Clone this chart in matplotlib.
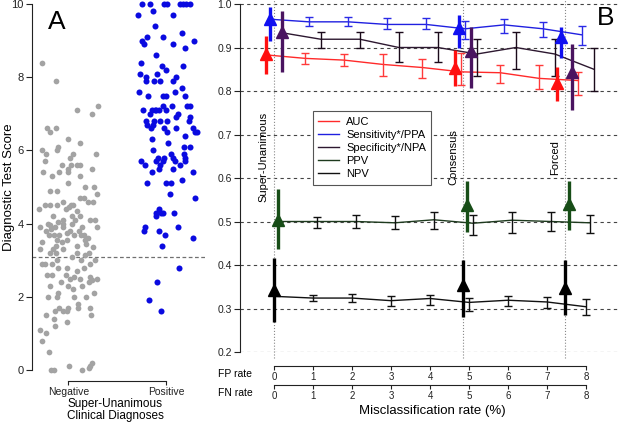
import numpy as np
import matplotlib
matplotlib.use("Agg")
import matplotlib.pyplot as plt
from matplotlib.lines import Line2D

plt.rcParams['font.family'] = ['Liberation Sans', 'DejaVu Sans']

# ---------------- Panel A data ----------------
neg_jitter = [-0.27, -0.13, 0.09, 0.30, 0.24, -0.22, -0.19, -0.13, 0.0, -0.27, -0.10, -0.12, 0.12,
              -0.23, 0.05, 0.28, -0.24, 0.02, 0.03, -0.06, 0.09, 0.12, -0.26, -0.09, 0.0, 0.0, 0.12,
              -0.17, 0.24, 0.0, 0.26, 0.17, -0.19, -0.12, 0.12, 0.16, 0.29, 0.20, 0.25, -0.05, 0.03,
              0.01, 0.05, -0.19, -0.24, -0.30, -0.11, 0.09, -0.02, -0.16, 0.12, -0.05, 0.04, 0.07,
              0.22, 0.27, -0.21, -0.19, -0.10, -0.05, 0.04, -0.29, -0.23, -0.18, -0.15, -0.20, -0.14,
              -0.09, -0.05, -0.01, 0.02, 0.06, 0.11, 0.14, 0.16, 0.20, 0.29, -0.11, -0.06, -0.13,
              -0.27, -0.29, -0.01, 0.13, 0.17, 0.18, 0.25, 0.09, -0.05, -0.16, -0.19, -0.13, 0.09,
              0.04, 0.17, 0.21, 0.27, -0.27, -0.24, -0.17, -0.12, 0.13, 0.16, 0.22, -0.01, 0.09,
              -0.22, -0.17, -0.10, -0.02, 0.02, 0.06, 0.12, 0.29, 0.22, -0.07, 0.0, -0.19, 0.24,
              0.21, 0.14, 0.05, -0.12, -0.21, -0.10, 0.18, 0.26, 0.06, 0.10, 0.0, -0.09, 0.10, 0.22,
              -0.14, -0.05, -0.01, 0.23, -0.23, -0.01, -0.14, -0.29, -0.23, -0.27, -0.20, 0.01,
              -0.18, -0.15, 0.14, 0.21, 0.24, 0.22, -0.15]
neg_score = [8.4, 7.9, 7.1, 7.2, 7.0, 6.6, 6.5, 6.6, 6.3, 6.0, 6.1, 6.0, 6.2,
             5.9, 5.9, 5.9, 5.7, 5.8, 5.6, 5.6, 5.6, 5.6, 5.4, 5.4, 5.5, 5.4, 5.3,
             5.3, 5.5, 5.1, 5.0, 5.0, 4.9, 4.9, 4.7, 4.7, 4.8, 4.6, 4.6, 4.6, 4.5,
             4.45, 4.5, 4.5, 4.5, 4.4, 4.5, 4.35, 4.4, 4.2, 4.2, 4.1, 4.2, 4.1,
             4.1, 4.1, 4.0, 3.95, 4.05, 4.0, 4.0, 3.9, 3.8, 3.85, 3.7, 3.7, 3.9,
             3.7, 3.9, 3.75, 3.8, 3.7, 3.8, 3.9, 3.7, 3.6, 3.9, 3.55, 3.5, 3.4,
             3.5, 3.3, 3.55, 3.7, 3.55, 3.45, 3.35, 3.4, 3.3, 3.3, 3.2, 3.2, 3.2,
             3.1, 3.15, 3.2, 3.0, 2.9, 2.9, 2.9, 3.0, 3.0, 2.8, 2.9, 2.8, 2.7,
             2.6, 2.6, 2.8, 2.6, 2.5, 2.55, 2.5, 2.5, 2.55, 2.4, 2.3, 2.3, 2.45,
             2.4, 2.3, 2.2, 2.0, 2.0, 2.1, 2.0, 2.1, 2.0, 1.8, 1.7, 1.7, 1.7, 1.7,
             1.6, 1.6, 1.6, 1.5, 1.5, 1.3, 1.2, 1.1, 1.0, 0.8, 0.5, 0.1,
             0.0, 0.0, 0.0, 0.05, 0.2, 0.1, 1.4]

pos_jitter = [-0.25, -0.17, -0.02, 0.01, 0.14, 0.17, 0.20, 0.24, -0.29, -0.14, 0.07, -0.12, -0.20,
              -0.03, 0.16, 0.28, -0.25, -0.23, 0.07, 0.19, -0.11, -0.26, -0.04, 0.17, 0.0, -0.27,
              -0.09, 0.10, -0.21, -0.21, -0.13, -0.06, 0.07, 0.16, -0.28, 0.09, 0.19, -0.19, -0.03,
              0.0, -0.03, 0.06, 0.21, 0.24, -0.24, -0.15, -0.12, -0.10, -0.07, 0.0, -0.17, 0.12,
              -0.21, -0.13, -0.06, 0.01, 0.10, 0.24, 0.23, -0.20, -0.14, -0.16, -0.02, 0.01, 0.10,
              0.27, 0.29, 0.31, 0.19, -0.15, 0.02, 0.24, 0.18, -0.14, 0.05, 0.18, -0.26, -0.02,
              -0.08, -0.10, 0.07, 0.09, 0.19, 0.19, -0.22, -0.06, -0.07, -0.03, 0.14, 0.07, -0.15,
              0.27, 0.16, -0.20, 0.0, 0.05, 0.04, 0.29, -0.07, -0.05, -0.11, -0.03, -0.10, 0.08,
              -0.22, -0.23, -0.07, 0.12, -0.01, 0.27, -0.04, 0.13, -0.09, -0.18, -0.05]
pos_score = [10, 10, 10, 10, 10, 10, 10, 10, 9.7, 9.8, 9.7, 9.4, 9.1,
             9.1, 9.2, 9.0, 9.0, 8.9, 8.9, 8.8, 8.6, 8.4, 8.3, 8.3, 8.2, 8.1,
             8.1, 8.0, 8.0, 7.9, 7.9, 7.9, 7.9, 7.7, 7.6, 7.6, 7.5, 7.5, 7.5,
             7.5, 7.2, 7.2, 7.2, 7.2, 7.1, 7.1, 7.1, 7.1, 7.1, 7.1, 7.0, 7.0,
             6.8, 6.8, 6.8, 6.8, 6.9, 6.9, 6.8, 6.7, 6.7, 6.6, 6.6, 6.5, 6.6,
             6.6, 6.5, 6.5, 6.4, 6.3, 6.2, 6.1, 6.1, 6.0, 5.9, 5.9, 5.7, 5.8,
             5.8, 5.7, 5.8, 5.7, 5.7, 5.8, 5.6, 5.6, 5.5, 5.7, 5.6, 5.5, 5.4,
             5.4, 5.2, 5.1, 5.1, 5.1, 4.8, 4.7, 4.4, 4.3, 4.2, 4.3, 4.3, 4.3,
             3.9, 3.8, 3.8, 3.9, 3.7, 3.6, 3.4, 2.8, 2.4, 1.9, 1.6]

groups = ["Negative", "Positive"]
threshold = 3.1

# ---------------- Panel B data ----------------
rates = [0, 1, 2, 3, 4, 5, 6, 7, 8]
nan = np.nan
auc_vals = [0.883, 0.875, 0.871, 0.861, 0.854, 0.844, 0.842, 0.829, 0.824]
auc_lo = [nan, 0.861, 0.857, 0.835, 0.829, 0.814, 0.818, 0.804, 0.791]
auc_hi = [nan, 0.887, 0.884, 0.884, 0.873, 0.888, 0.860, 0.860, 0.844]
sens_vals = [0.965, 0.959, 0.959, 0.953, 0.953, 0.943, 0.952, 0.943, 0.929]
sens_lo = [nan, 0.950, 0.950, 0.942, 0.942, 0.920, 0.933, 0.923, 0.906]
sens_hi = [nan, 0.969, 0.969, 0.967, 0.967, 0.961, 0.965, 0.959, 0.950]
spec_vals = [0.934, 0.919, 0.919, 0.900, 0.900, 0.885, 0.900, 0.885, 0.850]
spec_lo = [nan, 0.900, 0.900, 0.867, 0.867, 0.834, 0.850, 0.834, 0.800]
spec_hi = [nan, 0.935, 0.935, 0.935, 0.935, 0.919, 0.935, 0.919, 0.900]
ppv_vals = [0.500, 0.500, 0.500, 0.497, 0.504, 0.496, 0.503, 0.500, 0.497]
ppv_lo = [nan, 0.486, 0.486, 0.482, 0.483, 0.469, 0.473, 0.478, 0.473]
ppv_hi = [nan, 0.511, 0.516, 0.512, 0.521, 0.516, 0.521, 0.521, 0.516]
npv_vals = [0.328, 0.324, 0.324, 0.318, 0.323, 0.314, 0.319, 0.315, 0.304]
npv_lo = [nan, 0.318, 0.315, 0.305, 0.309, 0.294, 0.305, 0.302, 0.286]
npv_hi = [nan, 0.332, 0.334, 0.329, 0.332, 0.325, 0.329, 0.327, 0.321]

ref_names = ["Super-Unanimous", "Consensus", "Forced"]
ref_rates = [0.0, 4.84, 7.45]
auc_ref = [0.885, 0.852, 0.819]; auc_ref_lo = [0.840, 0.812, 0.778]; auc_ref_hi = [0.927, 0.894, 0.856]
sens_ref = [0.965, 0.944, 0.923]; sens_ref_lo = [0.915, 0.900, 0.877]; sens_ref_hi = [0.993, 0.975, 0.946]
spec_ref = [0.935, 0.893, 0.843]; spec_ref_lo = [0.843, 0.806, 0.756]; spec_ref_hi = [0.985, 0.948, 0.909]
ppv_ref = [0.504, 0.537, 0.540]; ppv_ref_lo = [0.436, 0.476, 0.481]; ppv_ref_hi = [0.574, 0.592, 0.592]
npv_ref = [0.342, 0.353, 0.348]; npv_ref_lo = [0.268, 0.280, 0.286]; npv_ref_hi = [0.416, 0.411, 0.411]

fp_ticks = [0, 1, 2, 3, 4, 5, 6, 7, 8]
fn_ticks = [0, 1, 2, 3, 4, 5, 6, 7, 8]

# ---------------- Figure ----------------
W, H = 620, 424
fig = plt.figure(figsize=(W / 100, H / 100), dpi=100)

def fx(px):
    return px / W

def fy(py):
    return 1 - py / H

axc = '#222222'

# ---- Panel A ----
axA = fig.add_axes([fx(32), fy(370), fx(173.5), 366 / H])
axA.set_xlim(0.63, 2.4)
axA.set_ylim(0, 10)
nx = [1 + j for j in neg_jitter]
px_ = [2 + j for j in pos_jitter]
axA.scatter(nx, neg_score, s=17, color='#a3a3a3', linewidths=0, clip_on=False, zorder=3)
axA.scatter(px_, pos_score, s=19, color='#0a0ae0', linewidths=0, clip_on=False, zorder=3)
axA.axhline(threshold, color='#707070', lw=0.9, dashes=(3, 2), zorder=2)
for s in ['top', 'right']:
    axA.spines[s].set_visible(False)
axA.spines['left'].set_bounds(0, 10)
axA.spines['bottom'].set_bounds(1, 2)
axA.spines['bottom'].set_position(('outward', 8))
for s in ['left', 'bottom']:
    axA.spines[s].set_color(axc)
    axA.spines[s].set_linewidth(0.8)
axA.set_yticks([0, 2, 4, 6, 8, 10])
axA.set_xticks([1, 2])
axA.set_xticklabels(groups)
axA.tick_params(axis='y', labelsize=8, length=4, width=0.8, pad=2, colors=axc)
axA.tick_params(axis='x', labelsize=7.5, length=3, width=0.8, pad=1, colors=axc)
fig.text(fx(9), fy(187), "Diagnostic Test Score", rotation=90, ha='center', va='center', fontsize=9.5)
fig.text(fx(115), fy(404), "Super-Unanimous", ha='center', va='center', fontsize=8.5)
fig.text(fx(115), fy(416), "Clinical Diagnoses", ha='center', va='center', fontsize=8.5)
fig.text(fx(57), fy(22), "A", ha='center', va='center', fontsize=19)

# ---- Panel B ----
axB = fig.add_axes([fx(240), fy(352), fx(380), 352 / H])
axB.set_xlim(-0.872, 8.87)
axB.set_ylim(0.2, 1.0092)
for s in ['top', 'right', 'bottom']:
    axB.spines[s].set_visible(False)
axB.spines['left'].set_bounds(0.2, 1.0)
axB.spines['left'].set_color(axc)
axB.spines['left'].set_linewidth(0.8)
axB.set_yticks([0.2, 0.3, 0.4, 0.5, 0.6, 0.7, 0.8, 0.9, 1.0])
axB.set_yticklabels(["0.2", "0.3", "0.4", "0.5", "0.6", "0.7", "0.8", "0.9", "1.0"])
axB.set_xticks([])
axB.tick_params(axis='y', labelsize=7.5, length=4, width=0.8, pad=2, colors=axc)
for yv in [0.2, 0.3, 0.4, 0.5, 0.6, 0.7, 0.8, 0.9, 1.0]:
    axB.axhline(yv, color='#444444', lw=0.8, dashes=(3, 3), zorder=1)

for rx in ref_rates:
    axB.plot([rx, rx], [0.186, 1.0092], color='#888888', lw=0.8, ls=':', zorder=1, clip_on=False)
text_off = [-0.28, -0.25, -0.25]
for name, rx, to in zip(ref_names, ref_rates, text_off):
    axB.text(rx + to, 0.648, name, rotation=90, ha='center', va='center', fontsize=8)

series = [
    ("AUC", -0.2, auc_vals, auc_lo, auc_hi, auc_ref, auc_ref_lo, auc_ref_hi, '#ff2a2a', '#ff3a3a', '#ff1010'),
    ("Sensitivity*/PPA", -0.1, sens_vals, sens_lo, sens_hi, sens_ref, sens_ref_lo, sens_ref_hi, '#2020e0', '#2a2ae6', '#1010f0'),
    ("Specificity*/NPA", 0.2, spec_vals, spec_lo, spec_hi, spec_ref, spec_ref_lo, spec_ref_hi, '#2d1830', '#1a0a1a', '#4a1460'),
    ("PPV", 0.1, ppv_vals, ppv_lo, ppv_hi, ppv_ref, ppv_ref_lo, ppv_ref_hi, '#1e3a1e', '#101010', '#174d17'),
    ("NPV", 0.0, npv_vals, npv_lo, npv_hi, npv_ref, npv_ref_lo, npv_ref_hi, '#111111', '#111111', '#000000'),
]
handles = []
for name, off, vals, lo, hi, rv, rlo, rhi, lc, ec, tc in series:
    xs = np.array(rates, dtype=float) + off
    v = np.array(vals)
    axB.plot(xs, v, color=lc, lw=1.0, zorder=3)
    l = np.array(lo); h = np.array(hi)
    m = ~np.isnan(l)
    axB.errorbar(xs[m], v[m], yerr=[v[m] - l[m], h[m] - v[m]], fmt='none', ecolor=ec,
                 elinewidth=1.0, capsize=3, capthick=1.0, zorder=4)
    rxs = np.array(ref_rates) + off
    r = np.array(rv)
    axB.vlines(rxs, rlo, rhi, colors=tc, lw=2.4, zorder=5)
    axB.plot(rxs, r, ls='none', marker='^', ms=8, color=tc, mec=tc, zorder=6)
    handles.append(Line2D([], [], color=lc, lw=1.0))

leg = axB.legend(handles, [s[0] for s in series], loc='upper left',
                 bbox_to_anchor=(fx(312.7), fy(111)), bbox_transform=fig.transFigure,
                 fontsize=8, handlelength=1.9, handletextpad=0.6, labelspacing=0.28,
                 borderpad=0.5, borderaxespad=0, frameon=True, fancybox=False, framealpha=1)
leg.get_frame().set_edgecolor('#555555')
leg.get_frame().set_linewidth(0.8)

# FP / FN rate axes
for py, ticks in [(366, fp_ticks), (385, fn_ticks)]:
    a = fig.add_axes([fx(240), fy(py), fx(380), 0.0001])
    a.set_xlim(-0.872, 8.87)
    a.patch.set_visible(False)
    for s in ['top', 'right', 'left']:
        a.spines[s].set_visible(False)
    a.spines['bottom'].set_bounds(0, 8)
    a.spines['bottom'].set_color(axc)
    a.spines['bottom'].set_linewidth(0.8)
    a.set_yticks([])
    a.set_xticks(ticks)
    a.set_xticklabels([str(t) for t in ticks])
    a.tick_params(axis='x', labelsize=7, length=3, width=0.8, pad=1, colors=axc)

fig.text(fx(235), fy(374), "FP rate", ha='center', va='center', fontsize=7.5)
fig.text(fx(235), fy(393), "FN rate", ha='center', va='center', fontsize=7.5)
fig.text(fx(432), fy(411), "Misclassification rate (%)", ha='center', va='center', fontsize=9.5)
fig.text(fx(606), fy(18), "B", ha='center', va='center', fontsize=19)

fig.savefig("out.png", dpi=100)
